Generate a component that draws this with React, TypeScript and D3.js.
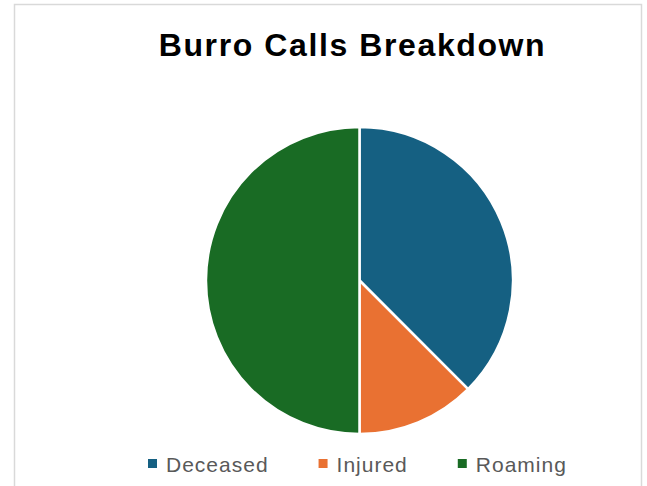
import * as d3 from 'd3';
import React, { useLayoutEffect, useRef, useState } from 'react';

const categories = ['Deceased', 'Injured', 'Roaming'];
const values = [3, 1, 4];
const colors = ['#156082', '#E97132', '#196B24'];
const title = 'Burro Calls Breakdown';

type Slice = { name: string; value: number; color: string };

const App: React.FC = () => {
  const width = 647;
  const height = 486;
  const cx = 359.5;
  const cy = 280.5;
  const radius = 153.5;

  const data: Slice[] = categories.map((c, i) => ({ name: c, value: values[i], color: colors[i] }));

  const pie = d3.pie<Slice>().sort(null).value(d => d.value);
  const arc = d3.arc<d3.PieArcDatum<Slice>>().innerRadius(0).outerRadius(radius);

  // legend items laid out one after another, widths measured from the rendered text
  const labelRefs = useRef<(SVGTextElement | null)[]>([]);
  const [offsets, setOffsets] = useState<number[]>([148, 321, 460]);
  useLayoutEffect(() => {
    const widths = labelRefs.current.map(t => (t ? t.getComputedTextLength() : 0));
    const xs: number[] = [];
    let x = 148;
    widths.forEach(w => {
      xs.push(x);
      x += 18 + w + 50;
    });
    setOffsets(xs);
  }, []);

  return (
    <svg width={width} height={height} style={{ position: 'absolute', left: 0, top: 0 }}
      fontFamily="'Liberation Sans', Arial, sans-serif">
      <rect x={0} y={0} width={width} height={height} fill="#fff" />
      <rect x={14.5} y={4.5} width={627} height={height + 20} fill="none" stroke="#D9D9D9" strokeWidth={1.5} />
      <text x={352.5} y={56} textAnchor="middle" fontSize={32} fontWeight="bold" fill="#000" letterSpacing={1.6}>{title}</text>
      <g transform={`translate(${cx},${cy})`}>
        {pie(data).map(d => (
          <path key={d.data.name} d={arc(d) ?? ''} fill={d.data.color} stroke="#fff" strokeWidth={2.5} strokeLinejoin="round" />
        ))}
      </g>
      {categories.map((c, i) => (
        <g key={c} transform={`translate(${offsets[i]},0)`}>
          <rect x={0} y={459} width={9} height={9} fill={colors[i]} />
          <text ref={el => { labelRefs.current[i] = el; }} x={18} y={472} fontSize={21} fill="#595959" letterSpacing={1.0}>{c}</text>
        </g>
      ))}
    </svg>
  );
};

export default App;
